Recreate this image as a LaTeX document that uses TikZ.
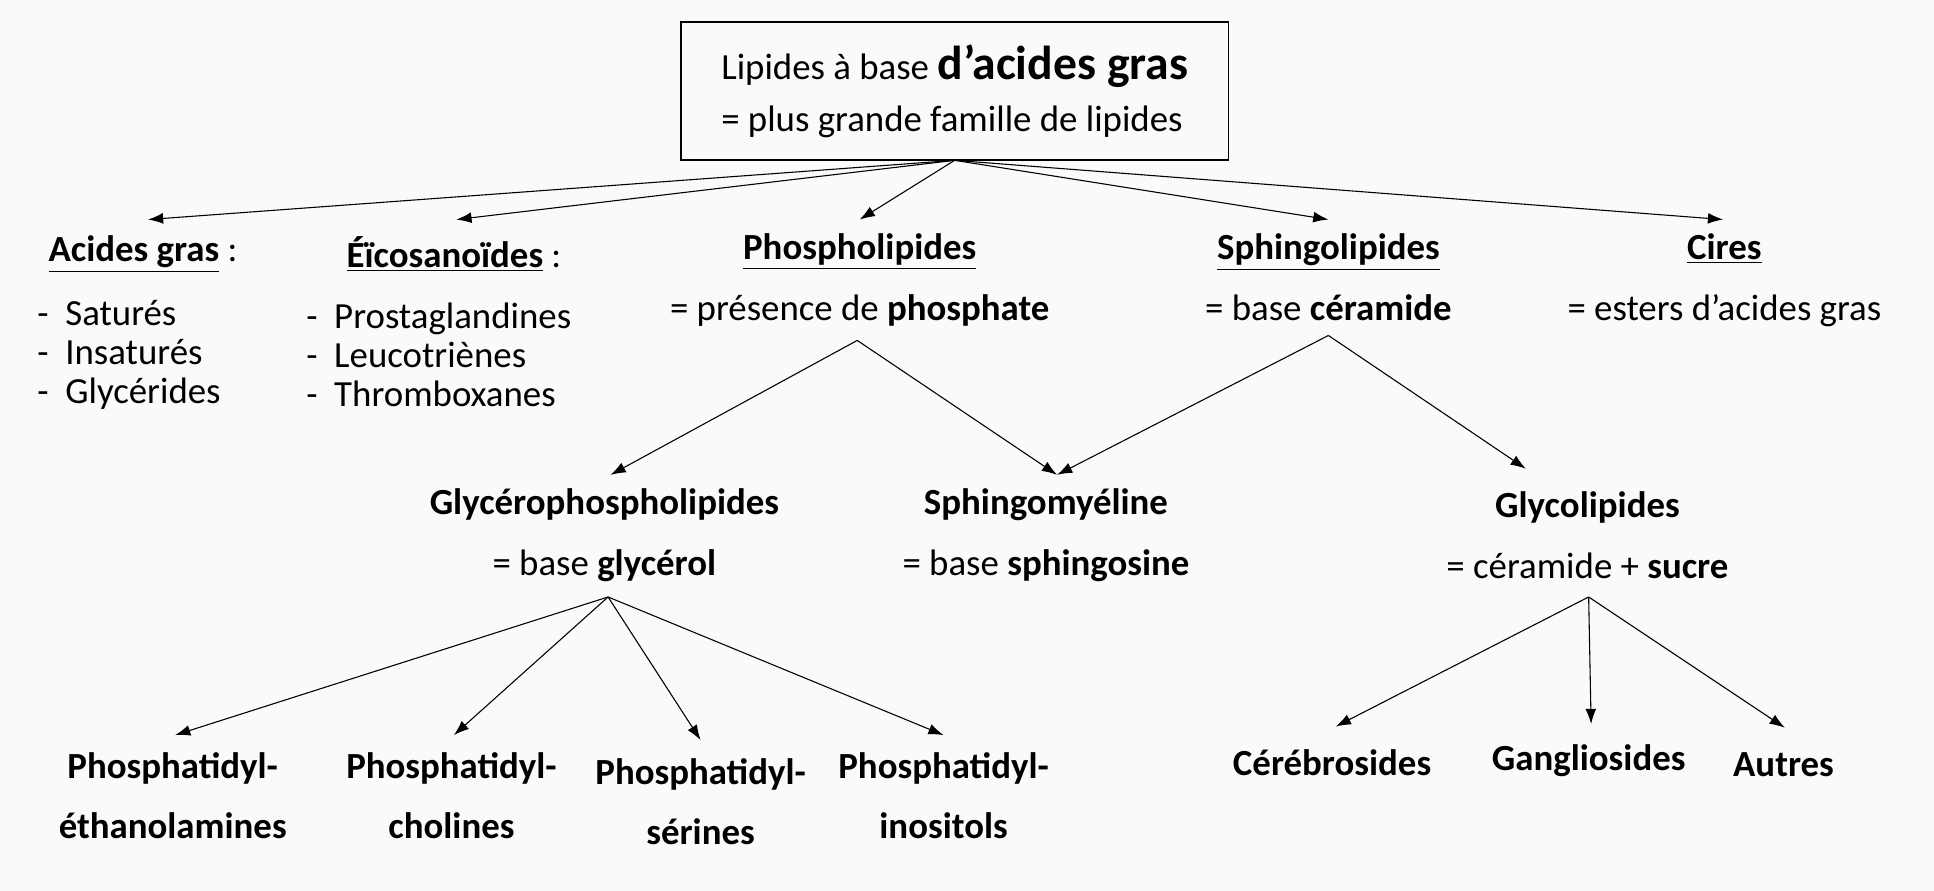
\documentclass[tikz,border=0pt]{standalone}
\usepackage{fontspec}
\setmainfont{Carlito}
\usetikzlibrary{arrows.meta}
\definecolor{bg}{HTML}{FAFAF8}
\begin{document}
\begin{tikzpicture}[x=0.02cm,y=-0.02cm,
  t/.style={font=\fontsize{17}{24}\selectfont, inner sep=0pt, align=center},
  arr/.style={-{Latex[length=7pt,width=5pt]}, line width=0.5pt}]
\fill[bg] (0,0) rectangle (1568,722);
\useasboundingbox (0,0) rectangle (1568,722);
\node[draw, line width=0.8pt, minimum width=444*0.02cm, minimum height=112*0.02cm, align=left, inner sep=6pt, font=\fontsize{17}{24}\selectfont] (top) at (774,74)
  {Lipides à base {\fontsize{22}{24}\selectfont\bfseries d’acides gras}\\= plus grande famille de lipides};
\coordinate (s0) at (774,130);
\coordinate (e1) at (120,178);
\coordinate (e2) at (370,178);
\coordinate (e3) at (697,178);
\coordinate (e4) at (1077,178);
\coordinate (e5) at (1397,178);
\foreach \e in {e1,e2,e3,e4,e5} \draw[arr] (s0) -- (\e);

\node[t] (ag) at (116,206) {\textbf{\underline{Acides gras}} :};
\node[t, anchor=west, align=left] (agl) at (30,288) {-\ \ Saturés\\[-6pt]\rule{0pt}{18pt}-\ \ Insaturés\\[-6pt]\rule{0pt}{18pt}-\ \ Glycérides};
\node[t] (eic) at (368,206) {\textbf{\underline{Éïcosanoïdes}} :};
\node[t, anchor=west, align=left] (eicl) at (248,288) {-\ \ Prostaglandines\\[-6pt]\rule{0pt}{18pt}-\ \ Leucotriènes\\[-6pt]\rule{0pt}{18pt}-\ \ Thromboxanes};
\node[t] (pl) at (697,227) {\textbf{\underline{Phospholipides}}\\[4pt]= présence de \textbf{phosphate}};
\node[t] (sl) at (1077,225) {\textbf{\underline{Sphingolipides}}\\[4pt]= base \textbf{céramide}};
\node[t] (ci) at (1398,227) {\textbf{\underline{Cires}}\\[4pt]= esters d’acides gras};

\coordinate (ps) at (695,276);
\coordinate (ss) at (1077,272);
\node[t] (gp) at (490,434) {\textbf{Glycérophospholipides}\\[4pt]= base \textbf{glycérol}};
\node[t] (sm) at (848,434) {\textbf{Sphingomyéline}\\[4pt]= base \textbf{sphingosine}};
\node[t] (gl) at (1287,434) {\textbf{Glycolipides}\\[4pt]= céramide + \textbf{sucre}};
\draw[arr] (ps) -- (495,385);
\draw[arr] (ps) -- (857,385);
\draw[arr] (ss) -- (857,385);
\draw[arr] (ss) -- (1237,380);

\coordinate (gs) at (493,484);
\node[t] (p1) at (140,645) {\textbf{Phosphatidyl-}\\[4pt]\textbf{éthanolamines}};
\node[t] (p2) at (366,645) {\textbf{Phosphatidyl-}\\[4pt]\textbf{cholines}};
\node[t] (p3) at (568,650) {\textbf{Phosphatidyl-}\\[4pt]\textbf{sérines}};
\node[t] (p4) at (765,645) {\textbf{Phosphatidyl-}\\[4pt]\textbf{inositols}};
\draw[arr] (gs) -- (142,596);
\draw[arr] (gs) -- (368,596);
\draw[arr] (gs) -- (568,600);
\draw[arr] (gs) -- (765,596);

\coordinate (ls) at (1288,484);
\node[t] (c1) at (1080,618) {\textbf{Cérébrosides}};
\node[t] (c2) at (1288,617) {\textbf{Gangliosides}};
\node[t] (c3) at (1446,620) {\textbf{Autres}};
\draw[arr] (ls) -- (1083,589);
\draw[arr] (ls) -- (1290,587);
\draw[arr] (ls) -- (1447,590);
\end{tikzpicture}
\end{document}
